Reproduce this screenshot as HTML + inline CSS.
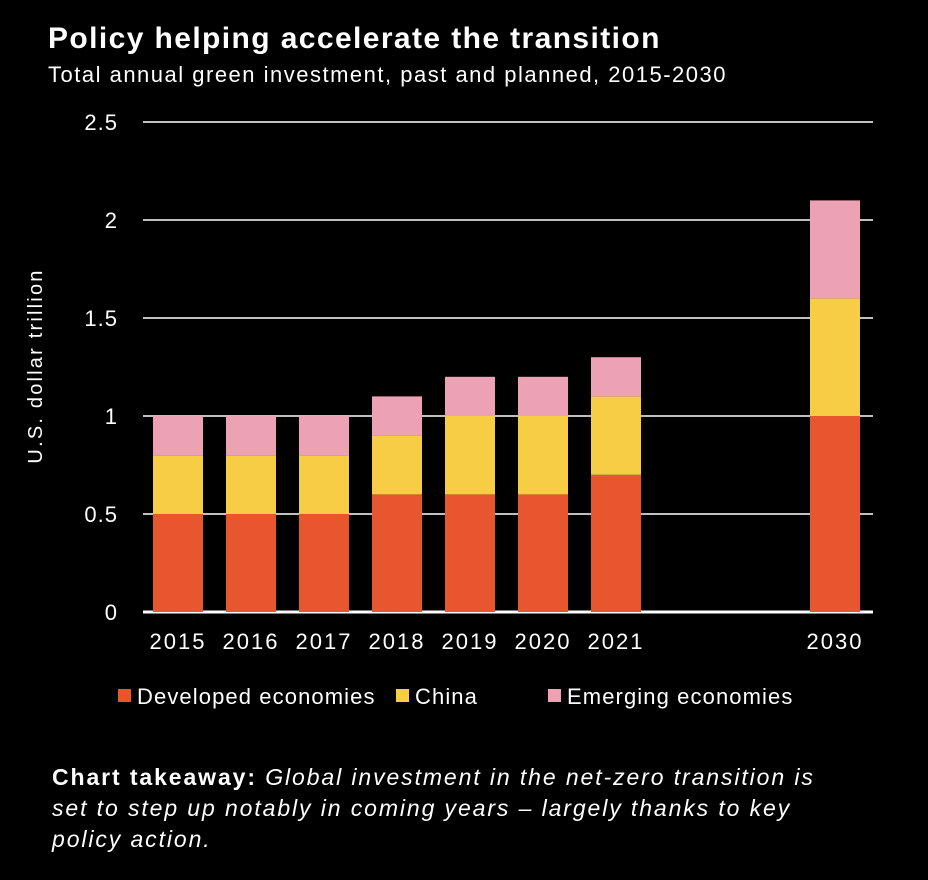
<!DOCTYPE html>
<html><head><meta charset="utf-8"><style>
body{margin:0;background:#000;width:928px;height:880px;overflow:hidden;font-family:"Liberation Sans",sans-serif;color:#fff}
.t{position:absolute;left:48px;top:22px;font-size:30px;font-weight:bold;letter-spacing:1.4px;white-space:nowrap}
.s{position:absolute;left:48px;top:62px;font-size:22px;letter-spacing:1.5px;white-space:nowrap}
.k{position:absolute;left:52px;top:762px;font-size:23px;line-height:31px;width:870px;letter-spacing:1.9px;white-space:nowrap}
</style></head><body>
<div class="t">Policy helping accelerate the transition</div>
<div class="s">Total annual green investment, past and planned, 2015-2030</div>
<svg id="c" width="928" height="740" style="position:absolute;left:0;top:0"></svg>
<div class="k"><b>Chart takeaway:</b> <i>Global investment in the net-zero transition is<br>set to step up notably in coming years – largely thanks to key<br>policy action.</i></div>
<script>
const categories=["2015","2016","2017","2018","2019","2020","2021","2030"];
const slots=[0,1,2,3,4,5,6,9];
const developed=[0.5,0.5,0.5,0.6,0.6,0.6,0.7,1.0];
const china=[0.3,0.3,0.3,0.3,0.4,0.4,0.4,0.6];
const emerging=[0.2,0.2,0.2,0.2,0.2,0.2,0.2,0.5];
const ticks=[0,0.5,1,1.5,2,2.5];
const tickLabels=["0","0.5","1","1.5","2","2.5"];
const seriesNames=["Developed economies","China","Emerging economies"];
const colors=["#E8562F","#F6CD45","#EDA1B4"];
const svg=document.getElementById('c');const NS="http://www.w3.org/2000/svg";
const y=v=>612-v*196, x=s=>178+73*s;
function mk(t,a,p){const e=document.createElementNS(NS,t);for(const k in a)e.setAttribute(k,a[k]);(p||svg).appendChild(e);return e;}
ticks.forEach((v,i)=>{
const l=mk('line',{x1:143,x2:873,y1:y(v),y2:y(v),stroke:'#fff','stroke-width':v===0?3:1.5});


const t=mk('text',{x:118,y:y(v)+8,'text-anchor':'end','font-size':22,'letter-spacing':1,fill:'#fff'});t.textContent=tickLabels[i];


});
const yt=mk('text',{transform:'translate(42,366) rotate(-90)','text-anchor':'middle','font-size':20,'letter-spacing':2.2,fill:'#fff'});yt.textContent="U.S. dollar trillion";


const series=[developed,china,emerging];
categories.forEach((c,i)=>{
let base=0;
series.forEach((s,j)=>{
const r=mk('rect',{x:x(slots[i])-25,width:50,y:y(base+s[i]),height:s[i]*196,fill:colors[j]});


base+=s[i];});
const t=mk('text',{x:x(slots[i]),y:649,'text-anchor':'middle','font-size':22,'letter-spacing':2,fill:'#fff'});t.textContent=c;


});
const lx=[118,396,548];
seriesNames.forEach((n,j)=>{
const r=mk('rect',{x:lx[j],y:689,width:13,height:13,fill:colors[j]});


const t=mk('text',{x:lx[j]+19,y:704,'font-size':22,'letter-spacing':1.1,fill:'#fff'});t.textContent=n;


});
</script>
</body></html>
